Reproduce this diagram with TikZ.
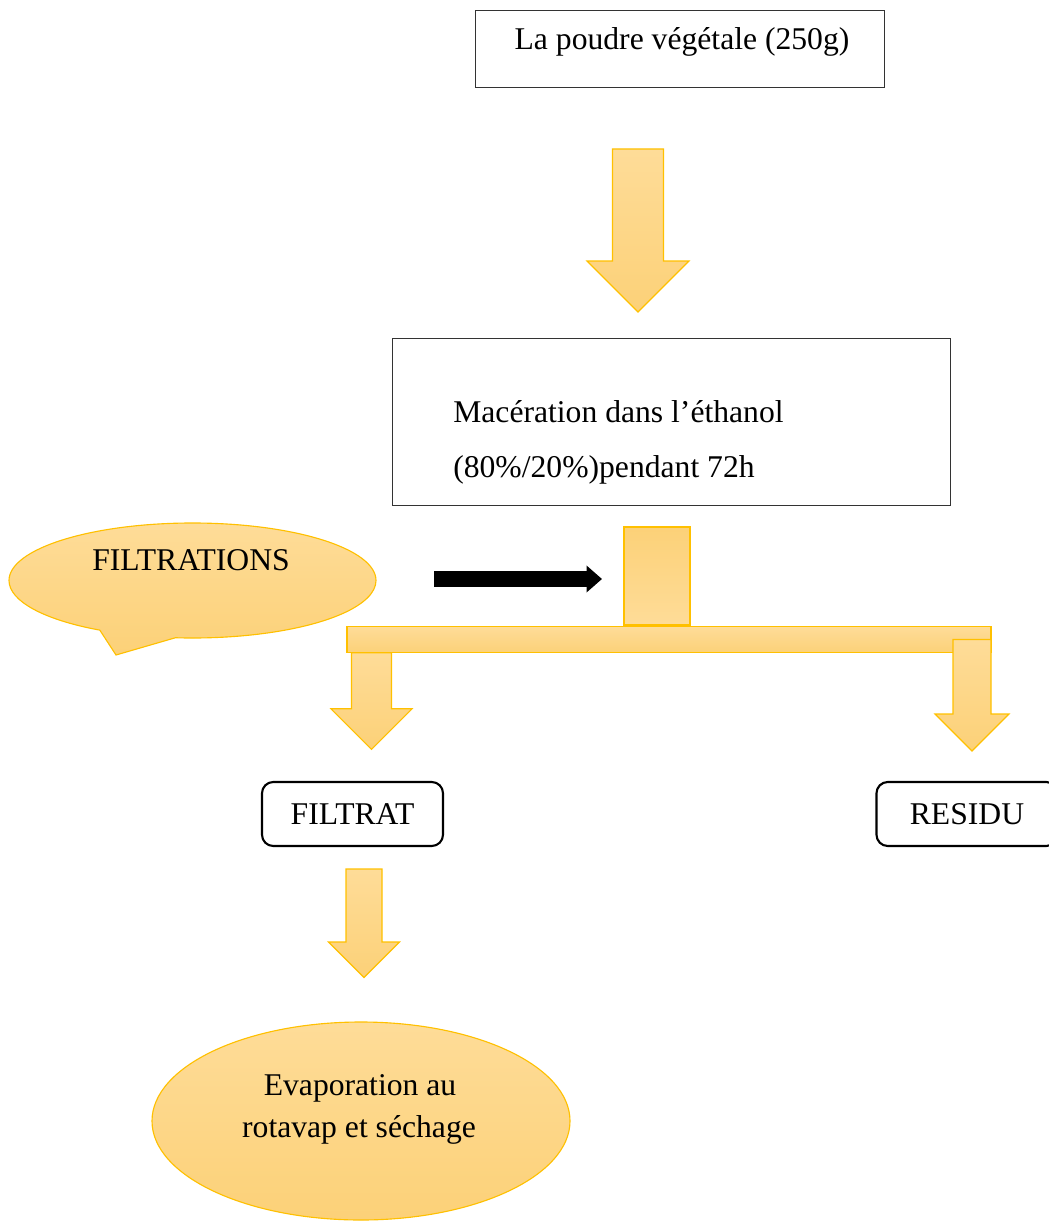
\documentclass[tikz,border=0pt]{standalone}
\usepackage{fontspec}
\setmainfont{Liberation Serif}
\usetikzlibrary{shapes.geometric,shapes.callouts,arrows.meta}
\definecolor{orclair}{RGB}{254,220,152}
\definecolor{orfonce}{RGB}{252,209,120}
\definecolor{orbord}{RGB}{255,192,0}
\def\px{0.025cm}
% fleche bloc : haut de la tige, demi-tige, demi-tete, longueur de tige
\newcommand{\flechebloc}[4]{#1 ++(-#2,0) -- ++(0,#4) -- ++(#2-#3,0) -- ++(#3,#3) -- ++(#3,-#3) -- ++(#2-#3,0) -- ++(0,-#4) -- cycle}

\begin{document}
\begin{tikzpicture}[x=\px, y=-\px,
    texte/.style={font=\fontsize{22.5}{27}\selectfont, inner sep=0pt},
    boite/.style={draw=black!80, line width=0.7pt},
    bloc/.style={draw=orbord, line width=0.8pt, top color=orclair, bottom color=orfonce},
    cadre/.style={draw=black, line width=1.5pt, rounded corners=8pt, inner sep=0pt,
        minimum width=181*\px, minimum height=64*\px}]
    \useasboundingbox (0,0) rectangle (1049,1221);
    % extraction
    \draw[boite] (475,10) rectangle (884,87);
    \node[texte, anchor=base] (poudre) at (682,50) {La poudre végétale (250g)};
    \draw[bloc] \flechebloc{(638,149)}{25.5}{51}{112};
    \draw[boite] (392,338) rectangle (950,505);
    \node[texte, anchor=base west] (macer) at (453,422) {Macération dans l’éthanol};
    \node[texte, anchor=base west] (duree) at (453,477) {(80\%/20\%)pendant 72h};
    % filtration
    \node[ellipse callout, bloc, inner sep=0pt, minimum width=367*\px, minimum height=115*\px,
        callout absolute pointer={(116,655)}, callout pointer arc=25] (bulle) at (192.5,580.5) {};
    \node[texte, anchor=base] (filtrations) at (191,570) {FILTRATIONS};
    \coordinate (fl1) at (434,579);
    \coordinate (fl2) at (602,579);
    \draw[line width=10.7pt, -{Triangle[length=11pt, width=18.5pt]}] (fl1) -- (fl2);
    \draw[bloc, top color=orfonce, bottom color=orclair] (624,527) rectangle (690,625);
    \draw[bloc] (347,626.6) rectangle (991,652.8);
    \draw[bloc] \flechebloc{(371.5,652.8)}{20}{40.5}{56};
    \draw[bloc] \flechebloc{(972,639.5)}{19}{37}{74.5};
    \node[cadre] (filtrat) at (352.5,814) {\fontsize{22.5}{27}\selectfont FILTRAT};
    \node[cadre] (residu) at (967,814) {\fontsize{22.5}{27}\selectfont RESIDU};
    % evaporation
    \draw[bloc] \flechebloc{(364,869)}{18}{35.5}{73};
    \node[ellipse, bloc, inner sep=0pt, minimum width=418*\px, minimum height=198*\px] (evap) at (361,1121) {};
    \node[texte, anchor=base] (evap1) at (360,1095) {Evaporation au};
    \node[texte, anchor=base] (evap2) at (359,1137) {rotavap et séchage};
\end{tikzpicture}
\end{document}
